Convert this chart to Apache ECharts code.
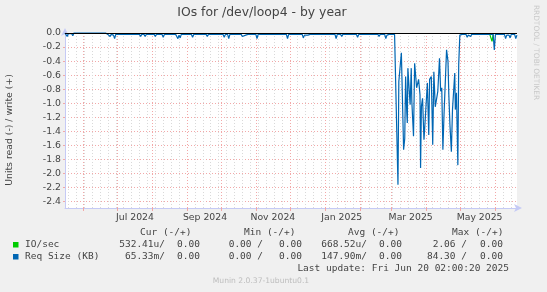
<!DOCTYPE html>
<html><head><meta charset="utf-8">
<script src="https://cdn.jsdelivr.net/npm/echarts@6/dist/echarts.min.js"></script>
<style>html,body{margin:0;padding:0;background:#f0f0f0}#c{width:547px;height:292px}</style>
</head><body><div id="c"></div>
<script>
const chartTitle = 'IOs for /dev/loop4 - by year';
const yAxisName = 'Units read (-) / write (+)';
const yTicks = [0, -0.2, -0.4, -0.6, -0.8, -1.0, -1.2, -1.4, -1.6, -1.8, -2.0, -2.2, -2.4];
const monthStarts = ['2024-06-01','2024-07-01','2024-08-01','2024-09-01','2024-10-01','2024-11-01','2024-12-01',
  '2025-01-01','2025-02-01','2025-03-01','2025-04-01','2025-05-01','2025-06-01'];
const xLabelDates = ['2024-07-17','2024-09-17','2024-11-16','2025-01-16','2025-03-18','2025-05-18'];
const xLabels = ['Jul 2024','Sep 2024','Nov 2024','Jan 2025','Mar 2025','May 2025'];
const rangeStart = '2024-05-16T02:00:00Z';
const rangeEnd = '2025-06-20T02:00:00Z';

// Req Size (KB), read side (negative)
const reqSize = [
 ['2024-05-16',0],['2024-05-17',-0.01],['2024-05-18',-0.05],['2024-05-19',-0.01],['2024-05-22',-0.01],
 ['2024-05-23',-0.04],['2024-05-24',0],['2024-06-21',0],['2024-06-23',-0.02],['2024-06-24',-0.02],
 ['2024-06-25',-0.05],['2024-06-26',-0.02],['2024-06-28',-0.03],['2024-06-29',-0.08],['2024-06-30',-0.02],
 ['2024-07-21',-0.02],['2024-07-22',-0.05],['2024-07-23',-0.02],['2024-07-25',-0.02],['2024-07-26',-0.05],
 ['2024-07-27',-0.02],['2024-08-03',-0.02],['2024-08-04',-0.05],['2024-08-05',-0.02],['2024-08-10',-0.02],
 ['2024-08-11',-0.06],['2024-08-12',-0.02],['2024-08-22',-0.02],['2024-08-23',-0.05],['2024-08-24',-0.08],
 ['2024-08-25',-0.03],['2024-08-26',-0.07],['2024-08-27',-0.02],['2024-09-05',-0.02],['2024-09-06',-0.06],
 ['2024-09-07',-0.02],['2024-09-12',-0.02],['2024-09-13',-0.04],['2024-09-14',-0.02],['2024-09-18',-0.02],
 ['2024-09-19',-0.05],['2024-09-20',-0.02],['2024-10-03',-0.02],['2024-10-04',-0.06],['2024-10-05',-0.02],
 ['2024-10-07',-0.02],['2024-10-08',-0.08],['2024-10-09',-0.02],['2024-10-19',-0.02],['2024-10-20',-0.05],
 ['2024-10-21',-0.03],['2024-10-23',-0.03],['2024-10-24',-0.04],['2024-10-25',-0.02],['2024-11-01',-0.02],
 ['2024-11-02',-0.08],['2024-11-03',-0.02],['2024-11-28',-0.02],['2024-11-29',-0.08],['2024-11-30',-0.02],
 ['2024-12-12',-0.02],['2024-12-13',-0.07],['2024-12-14',-0.03],['2024-12-17',-0.03],['2024-12-18',-0.05],
 ['2024-12-19',-0.02],['2025-01-10',-0.02],['2025-01-11',-0.08],['2025-01-12',-0.02],['2025-01-15',-0.02],
 ['2025-01-16',-0.05],['2025-01-17',-0.02],['2025-01-29',-0.02],['2025-01-30',-0.06],['2025-01-31',-0.02],
 ['2025-02-17',-0.02],['2025-02-18',-0.05],['2025-02-19',-0.02],['2025-02-23',-0.02],['2025-02-24',-0.08],
 ['2025-02-25',-0.03],['2025-02-26',-0.04],['2025-02-27',-0.02],
 ['2025-03-03T18:00Z',-0.02],['2025-03-06T18:00Z',-2.16],['2025-03-07T12:00Z',-0.69],['2025-03-09T00:00Z',-0.69],
 ['2025-03-09T18:00Z',-0.28],['2025-03-11T18:00Z',-1.66],['2025-03-12T18:00Z',-1.50],['2025-03-13T12:00Z',-0.62],
 ['2025-03-14T12:00Z',-1.12],['2025-03-15T00:00Z',-1.28],['2025-03-15T12:00Z',-0.50],['2025-03-16T12:00Z',-0.50],
 ['2025-03-17T12:00Z',-1.02],['2025-03-18T12:00Z',-0.50],['2025-03-19T00:00Z',-0.97],['2025-03-20T12:00Z',-1.47],
 ['2025-03-21T12:00Z',-0.43],['2025-03-22T12:00Z',-0.43],['2025-03-23T06:00Z',-0.78],['2025-03-24T12:00Z',-0.78],
 ['2025-03-25T00:00Z',-0.66],['2025-03-26T06:00Z',-0.88],['2025-03-26T18:00Z',-1.92],['2025-03-27T12:00Z',-1.04],
 ['2025-03-28T12:00Z',-0.93],['2025-03-29T18:00Z',-1.52],['2025-03-30T12:00Z',-1.33],['2025-03-31T12:00Z',-1.33],
 ['2025-04-01T18:00Z',-0.71],['2025-04-03T00:00Z',-1.45],['2025-04-03T18:00Z',-0.66],['2025-04-05T06:00Z',-0.62],
 ['2025-04-06T12:00Z',-1.59],['2025-04-07T12:00Z',-0.55],['2025-04-08T18:00Z',-1.05],['2025-04-10T00:00Z',-1.05],
 ['2025-04-11T00:00Z',-0.83],['2025-04-12T12:00Z',-0.36],['2025-04-13T12:00Z',-0.83],['2025-04-14T12:00Z',-0.78],
 ['2025-04-15T12:00Z',-1.66],['2025-04-16T12:00Z',-1.16],['2025-04-17T06:00Z',-1.16],['2025-04-18T18:00Z',-0.24],
 ['2025-04-20T00:00Z',-0.40],['2025-04-20T18:00Z',-0.88],['2025-04-21T18:00Z',-1.31],['2025-04-23T00:00Z',-1.69],
 ['2025-04-24T00:00Z',-1.09],['2025-04-25T00:00Z',-1.09],['2025-04-26T00:00Z',-0.57],['2025-04-26T12:00Z',-1.09],
 ['2025-04-27T12:00Z',-0.85],['2025-04-28T18:00Z',-1.88],['2025-04-29T12:00Z',-0.45],['2025-04-30T12:00Z',-0.03],
 ['2025-05-01T18:00Z',-0.02],
 ['2025-05-02T12:00Z',-0.02],['2025-05-06',-0.02],['2025-05-07',-0.06],['2025-05-08',-0.03],['2025-05-10',-0.05],
 ['2025-05-11',-0.02],['2025-05-15',-0.02],['2025-05-16',-0.03],['2025-05-17',-0.02],['2025-05-25',-0.02],
 ['2025-05-26',-0.04],['2025-05-27',-0.02],['2025-05-30',-0.02],['2025-05-31',-0.24],['2025-06-01',-0.02],
 ['2025-06-09',-0.02],['2025-06-10',-0.08],['2025-06-11',-0.03],['2025-06-13',-0.03],['2025-06-14',-0.07],
 ['2025-06-15',-0.02],['2025-06-18',-0.02],['2025-06-19',-0.08],['2025-06-20',-0.03]
];
// IO/sec, read side (negative); elsewhere it stays hidden under the Req Size line
const ioSec = [
 ['2025-05-27',-0.02],['2025-05-29',-0.12],['2025-05-30',-0.02]
];

const legendNames = ['IO/sec', 'Req Size (KB)'];
const legendColors = ['#00cc00', '#0066b3'];
const legendHeaders = ['Cur (-/+)', 'Min (-/+)', 'Avg (-/+)', 'Max (-/+)'];
const curVals = [['532.41u/', '0.00'], ['65.33m/', '0.00']];
const minVals = [['0.00 /', '0.00'], ['0.00 /', '0.00']];
const avgVals = [['668.52u/', '0.00'], ['147.90m/', '0.00']];
const maxVals = [['2.06 /', '0.00'], ['84.30 /', '0.00']];
const lastUpdate = 'Last update: Fri Jun 20 02:00:20 2025';
const footer = 'Munin 2.0.37-1ubuntu0.1';
const sideText = 'RRDTOOL / TOBI OETIKER';

const T = s => Date.parse(s.length <= 10 ? s + 'T00:00:00Z' : s);
const xMin = T(rangeStart), xMax = T(rangeEnd);
const monthTs = monthStarts.map(T);
const labelTs = xLabelDates.map(T);
const weekTs = [];
for (let t = T('2024-05-19'); t < xMax; t += 7 * 86400000) weekTs.push(t);

const majorColor = '#f2a8a8';
const minorColor = '#d9d9d9';
const axisColor = '#c5caf5';
const textColor = '#444';
const sans = '"DejaVu Sans"';
const mono = '"DejaVu Sans Mono"';

const graphic = [];
graphic.push({type:'text', x:262, y:13, style:{text:chartTitle, fill:textColor, font:'12.4px ' + sans, textAlign:'center', textVerticalAlign:'middle'}});
graphic.push({type:'text', x:10, y:130, rotation:Math.PI/2, style:{text:yAxisName, fill:textColor, font:'9.3px ' + sans, textAlign:'center', textVerticalAlign:'middle'}});
graphic.push({type:'text', x:535.5, y:52.5, rotation:-Math.PI/2, style:{text:sideText, fill:'#c8c8c8', font:'7.4px ' + sans, textAlign:'center', textVerticalAlign:'middle'}});
const headerX = [140, 244, 348, 452];
legendHeaders.forEach((h, i) => graphic.push({type:'text', x:headerX[i], y:232.5, style:{text:h, fill:textColor, font:'9.5px ' + mono, textAlign:'left', textVerticalAlign:'middle'}}));
const readEnd = [165, 263, 367, 467];
const writeEnd = [200, 302, 402, 503];
const rowY = [244.5, 256.5];
const groups = [curVals, minVals, avgVals, maxVals];
legendNames.forEach((n, r) => {
  graphic.push({type:'rect', shape:{x:13, y:rowY[r] - 2.5, width:5.5, height:5.5}, style:{fill:legendColors[r]}});
  graphic.push({type:'text', x:25, y:rowY[r], style:{text:n, fill:textColor, font:'9.5px ' + mono, textAlign:'left', textVerticalAlign:'middle'}});
  groups.forEach((g, c) => {
    graphic.push({type:'text', x:readEnd[c], y:rowY[r], style:{text:g[r][0], fill:textColor, font:'9.5px ' + mono, textAlign:'right', textVerticalAlign:'middle'}});
    graphic.push({type:'text', x:writeEnd[c], y:rowY[r], style:{text:g[r][1], fill:textColor, font:'9.5px ' + mono, textAlign:'right', textVerticalAlign:'middle'}});
  });
});
graphic.push({type:'text', x:509, y:268.5, style:{text:lastUpdate, fill:textColor, font:'9.5px ' + mono, textAlign:'right', textVerticalAlign:'middle'}});
graphic.push({type:'text', x:261, y:281.5, style:{text:footer, fill:'#bdbdbd', font:'7.6px ' + sans, textAlign:'center', textVerticalAlign:'middle'}});

const chart = echarts.init(document.getElementById('c'), null, {renderer:'canvas'});
chart.setOption({
  backgroundColor:'#f0f0f0',
  animation:false,
  grid:{left:65, right:30, top:33, bottom:84, show:true, backgroundColor:'#ffffff', borderWidth:0},
  xAxis:[
    {type:'value', min:xMin, max:xMax, position:'bottom',
     axisLine:{show:false}, axisLabel:{show:false},
     axisTick:{show:false, customValues:weekTs},
     splitLine:{show:true, lineStyle:{color:minorColor, width:1, type:[1,2]}}},
    {type:'value', min:xMin, max:xMax, position:'bottom',
     axisLine:{show:true, onZero:false, lineStyle:{color:axisColor, width:1}, symbol:['none','arrow'], symbolSize:[6,8], symbolOffset:[0,5]},
     axisTick:{show:true, customValues:monthTs, length:3, lineStyle:{color:majorColor}},
     axisLabel:{customValues:labelTs, formatter:v => xLabels[labelTs.indexOf(v)], color:textColor, fontFamily:'DejaVu Sans', fontSize:9.3, margin:5},
     splitLine:{show:true, lineStyle:{color:majorColor, width:1, type:[1,2]}}}
  ],
  yAxis:{type:'value', min:-2.49, max:0,
     axisLine:{show:true, onZero:false, lineStyle:{color:axisColor, width:1}, symbol:['none','arrow'], symbolSize:[6,8], symbolOffset:[0,5]},
     axisTick:{show:true, customValues:yTicks, length:2, lineStyle:{color:majorColor}},
     axisLabel:{customValues:yTicks, formatter:v => v.toFixed(1), color:textColor, fontFamily:'DejaVu Sans', fontSize:9.3, margin:4},
     splitLine:{show:true, lineStyle:{color:majorColor, width:1, type:[1,2]}}},
  series:[
    {name:'IO/sec', type:'line', xAxisIndex:1, showSymbol:false, symbol:'none', clip:false,
     lineStyle:{color:'#00cc00', width:1.2}, data:ioSec.map(p => [T(p[0]), p[1]])},
    {name:'Req Size (KB)', type:'line', xAxisIndex:1, showSymbol:false, symbol:'none', clip:false,
     lineStyle:{color:'#0066b3', width:1.2}, data:reqSize.map(p => [T(p[0]), p[1]]),
     markLine:{silent:true, symbol:'none', label:{show:false}, lineStyle:{color:'#000', width:1, type:'solid'}, data:[{yAxis:0}]}}
  ],
  graphic:graphic
});
</script></body></html>
